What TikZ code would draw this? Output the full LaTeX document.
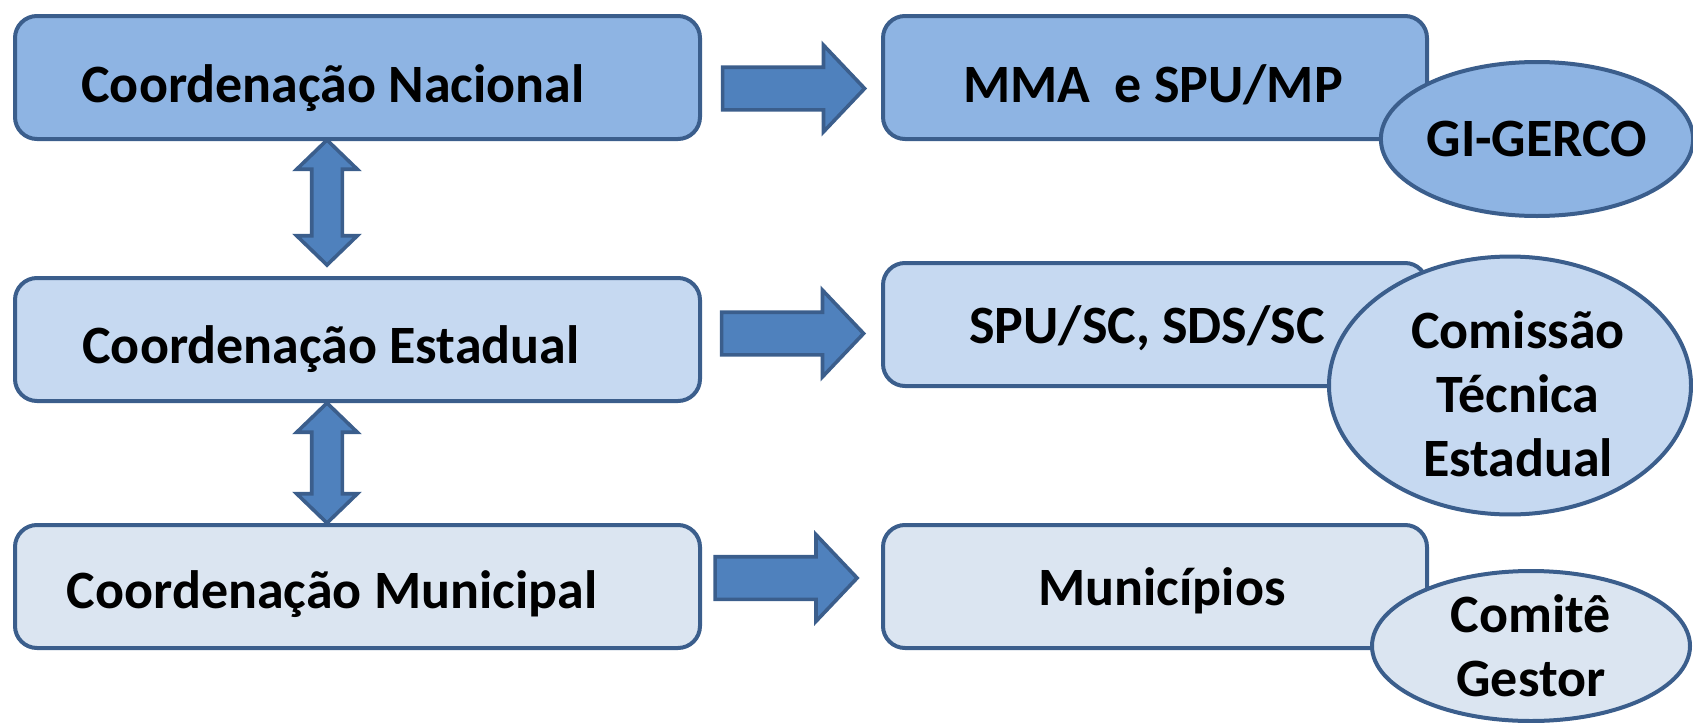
\documentclass[tikz,border=0pt]{standalone}
\usepackage{fontspec}
\setmainfont{Carlito}
\usetikzlibrary{shapes.geometric,shapes.arrows,calc}
\definecolor{edge}{HTML}{3B5E8C}
\definecolor{fillA}{HTML}{8EB4E3}
\definecolor{fillB}{HTML}{C6D9F1}
\definecolor{fillC}{HTML}{DBE5F1}
\definecolor{arrowfill}{HTML}{4F81BD}
\begin{document}
\begin{tikzpicture}[x=0.5pt,y=-0.5pt,
  box/.style={draw=edge, line width=2pt, rounded corners=11pt, rectangle,
    inner sep=0pt, outer sep=0pt, minimum height=61.5pt},
  leftbox/.style={box, minimum width=342.5pt},
  rightbox/.style={box, minimum width=272pt},
  lbl/.style={anchor=base, inner sep=0pt, font=\bfseries\fontsize{27}{32}\selectfont},
  oval/.style={ellipse, draw=edge, line width=2pt, inner sep=0pt, align=center,
    font=\bfseries\fontsize{27}{32}\selectfont},
  harrow/.style={single arrow, draw=edge, fill=arrowfill, line width=1.8pt,
    inner sep=0pt, text height=19.5pt, text depth=0pt,
    minimum height=71pt, minimum width=41.5pt,
    single arrow head extend=11pt, single arrow tip angle=93},
  varrow/.style={double arrow, draw=edge, fill=arrowfill, line width=1.8pt,
    inner sep=0pt, text height=13.5pt, text depth=0pt, minimum width=28.5pt, rotate=90,
    double arrow head extend=7.5pt, double arrow tip angle=92},
]
\useasboundingbox (0,0) rectangle (1693,723);
% boxes
\node[leftbox, fill=fillA] (b1) at (357.5,77.5) {};
\node[leftbox, fill=fillB] (b2) at (357.5,339.5) {};
\node[leftbox, fill=fillC] (b3) at (357.5,586.5) {};
\node[rightbox, fill=fillA] (m1) at (1155,77.5) {};
\node[rightbox, fill=fillB] (m2) at (1155,324.5) {};
\node[rightbox, fill=fillC] (m3) at (1155,586.5) {};
% texts
\node[lbl] (t1) at (333,102) {Coordenação Nacional};
\node[lbl] (t2) at (331,363) {Coordenação Estadual};
\node[lbl] (t3) at (332,608) {Coordenação Municipal};
\node[lbl] (t4) at (1153,102) {MMA~~e SPU/MP};
\node[lbl] (t5) at (1147,343) {SPU/SC, SDS/SC};
\node[lbl] (t6) at (1162,605) {Municípios};
% arrows
\node[harrow] (a1) at ($(b1.east)!0.5!(m1.west)+(-8,11)$) {};
\node[harrow] (a2) at ($(b2.east)!0.5!(m2.west)+(-9,1.5)$) {};
\node[harrow] (a3) at ($(b3.east)!0.5!(m3.west)+(-15.5,-8.5)$) {};
\node[varrow, minimum height=62.5pt] (d1) at ($(b1.south)!0.5!(b2.north)+(-30.5,-6)$) {};
\node[varrow, minimum height=60pt] (d2) at ($(b2.south)!0.5!(b3.north)+(-30.5,0)$) {};
% ellipses
\node[oval, fill=fillA, minimum width=151pt, minimum height=77pt] (e1) at (1537,139) {GI-GERCO};
\node[oval, fill=fillB, minimum width=181pt, minimum height=107pt] (e2) at (1510,385.5) {\rule{0pt}{27pt}\hspace{8pt}Comissão\\\hspace{8pt}Técnica\\\hspace{8pt}Estadual};
\node[oval, fill=fillC, minimum width=159pt, minimum height=75pt] (e3) at (1531,646) {Comitê\\Gestor};
\end{tikzpicture}
\end{document}
